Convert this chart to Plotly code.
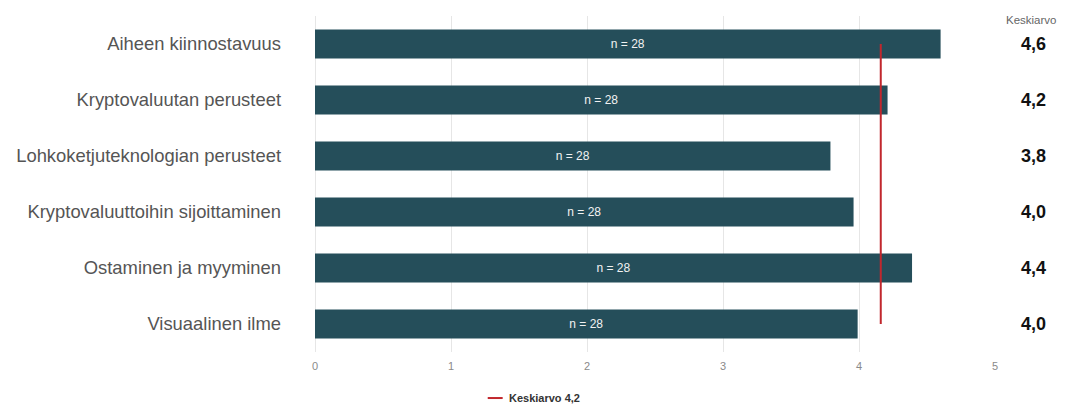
import plotly.graph_objects as go

categories = [
    "Aiheen kiinnostavuus",
    "Kryptovaluutan perusteet",
    "Lohkoketjuteknologian perusteet",
    "Kryptovaluuttoihin sijoittaminen",
    "Ostaminen ja myyminen",
    "Visuaalinen ilme",
]
values = [4.60, 4.21, 3.79, 3.96, 4.39, 3.99]
value_labels = ["4,6", "4,2", "3,8", "4,0", "4,4", "4,0"]
n_labels = ["n = 28"] * 6
mean_value = 4.16
mean_label = "Keskiarvo 4,2"
x_ticks = [0, 1, 2, 3, 4, 5]

FONT = "Liberation Sans, Arial, sans-serif"
BAR = "#254E5A"
RED = "#C1272D"

fig = go.Figure()
fig.add_trace(go.Bar(
    x=values, y=categories, orientation="h",
    marker=dict(color=BAR, line=dict(width=0)),
    width=0.52,
    text=n_labels, textposition="inside", insidetextanchor="middle",
    textfont=dict(family=FONT, size=12, color="#F2F2F2"),
    showlegend=False, hoverinfo="x+y",
))
fig.add_trace(go.Scatter(
    x=[mean_value, mean_value], y=[categories[0], categories[-1]],
    mode="lines", line=dict(color=RED, width=2),
    name=mean_label, showlegend=False,
))

annotations = [dict(
    x=1.053, y=1.0, xref="paper", yref="paper", yanchor="middle", xanchor="center",
    yshift=-4, text="Keskiarvo", showarrow=False,
    font=dict(family=FONT, size=11.5, color="#666666"),
)]
for c, lab in zip(categories, value_labels):
    annotations.append(dict(
        x=1.056, y=c, xref="paper", yref="y", xanchor="center", yanchor="middle",
        text="<b>%s</b>" % lab, showarrow=False,
        font=dict(family=FONT, size=18, color="#111111"),
    ))
annotations.append(dict(
    x=0.282, y=-0.137, xref="paper", yref="paper", xanchor="left", yanchor="middle",
    text="<b>%s</b>" % mean_label, showarrow=False,
    font=dict(family=FONT, size=11, color="#333333"),
))

fig.update_layout(
    width=1066, height=406,
    margin=dict(l=315, r=71, t=16, b=54),
    paper_bgcolor="white", plot_bgcolor="white",
    bargap=0.48,
    annotations=annotations,
    shapes=[dict(type="line", xref="paper", yref="paper",
                 x0=0.254, x1=0.276, y0=-0.137, y1=-0.137,
                 line=dict(color=RED, width=2))],
    xaxis=dict(
        range=[0, 5], tickvals=x_ticks, showgrid=True, gridcolor="#E6E6E6", gridwidth=1,
        zeroline=True, zerolinecolor="#E6E6E6", zerolinewidth=1, showline=False,
        tickfont=dict(family=FONT, size=11, color="#8A8A8A"), ticklabelstandoff=6,
    ),
    yaxis=dict(
        categoryorder="array", categoryarray=categories, autorange="reversed",
        showgrid=False, showline=False, zeroline=False,
        tickfont=dict(family=FONT, size=18.4, color="#555555"), ticklabelstandoff=33,
    ),
    font=dict(family=FONT),
)

fig.write_html("out.html")
